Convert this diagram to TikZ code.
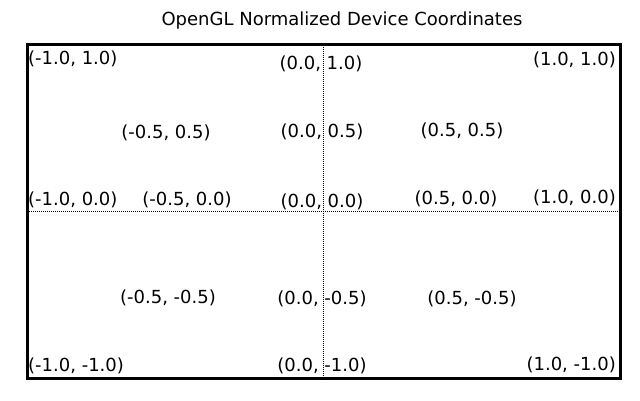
\documentclass[tikz,border=0pt]{standalone}
\usepackage{fontspec}
\setmainfont{DejaVu Sans}
\usetikzlibrary{positioning}
\tikzset{
    coordlabel/.style={inner sep=0pt, font=\fontsize{18}{21}\selectfont},
    titlelabel/.style={inner sep=0pt, font=\fontsize{18}{21}\selectfont},
    frame/.style={draw=black, line width=3pt},
    axisline/.style={draw=black, line width=1pt, dash pattern=on 1pt off 1pt},
}
\begin{document}
\begin{tikzpicture}[x=1pt, y=-1pt]
    \useasboundingbox (0,0) rectangle (640,400);

    \node[titlelabel] (title) at (342,21) {OpenGL Normalized Device Coordinates};

    % Frame and axes
    \coordinate (tl) at (27,44.5);
    \coordinate (br) at (620,378.5);
    \coordinate (top) at (323.5,44.5);
    \coordinate (bot) at (323.5,378.5);
    \coordinate (lft) at (27,211.5);
    \coordinate (rgt) at (620,211.5);
    \draw[axisline] (top) -- (bot);
    \draw[axisline] (lft) -- (rgt);
    \draw[frame] (tl) rectangle (br);

    % Labels
    \foreach \x/\y/\a/\t [count=\i] in {
        28/59/west/{(-1.0, 1.0)},
        321/64/center/{(0.0, 1.0)},
        616/60/east/{(1.0, 1.0)},
        166/133/center/{(-0.5, 0.5)},
        322/132/center/{(0.0, 0.5)},
        462/131/center/{(0.5, 0.5)},
        28/200/west/{(-1.0, 0.0)},
        187/200/center/{(-0.5, 0.0)},
        322/202/center/{(0.0, 0.0)},
        456/199/center/{(0.5, 0.0)},
        616/198/east/{(1.0, 0.0)},
        168/298/center/{(-0.5, -0.5)},
        322/299/center/{(0.0, -0.5)},
        472/299/center/{(0.5, -0.5)},
        28/366/west/{(-1.0, -1.0)},
        322/366/center/{(0.0, -1.0)},
        616/365/east/{(1.0, -1.0)}
    } {
        \node[coordlabel, anchor=\a] (pt\i) at (\x,\y) {\t};
    }
\end{tikzpicture}
\end{document}
